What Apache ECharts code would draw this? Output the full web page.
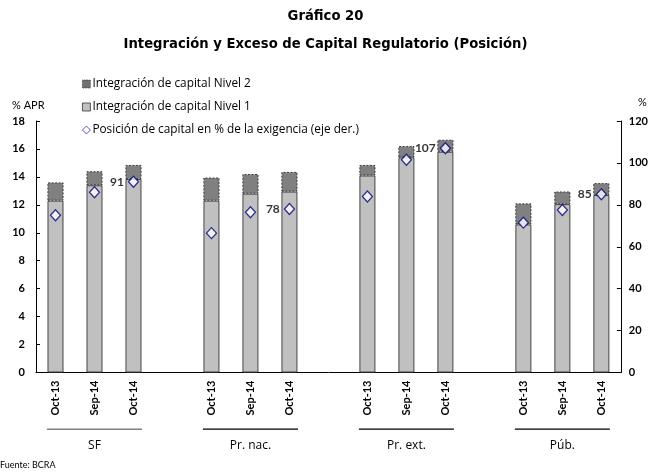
<!DOCTYPE html>
<html>
<head>
<meta charset="utf-8">
<script src="https://cdn.jsdelivr.net/npm/echarts@6/dist/echarts.min.js"></script>
<style>html,body{margin:0;padding:0;background:#fff}#c{width:651px;height:475px}</style>
</head>
<body>
<div id="c"></div>
<script>
var categories = ['Oct-13','Sep-14','Oct-14',' ','Oct-13','Sep-14','Oct-14','  ','Oct-13','Sep-14','Oct-14','   ','Oct-13','Sep-14','Oct-14'];
var groupLabels = ['', 'SF', '', '', '', 'Pr. nac.', '', '', '', 'Pr. ext.', '', '', '', 'Púb.', ''];
var nivel1 = [12.3, 13.4, 13.85, null, 12.3, 12.8, 12.95, null, 14.1, 15.4, 15.8, null, 10.6, 12.05, 12.7];
var nivel2 = [1.3, 1.0, 1.0, null, 1.65, 1.4, 1.4, null, 0.75, 0.8, 0.85, null, 1.5, 0.9, 0.85];
var posicion = [75, 86, 91, null, 66.5, 76.5, 78, null, 84, 101.5, 107, null, 71.5, 77.5, 85];
var labeledIdx = [2, 6, 10, 14];
var leftTicks = [0, 18, 2];
var rightTicks = [0, 120, 20];

var FONT = 'Lato, "Open Sans", sans-serif';
var WFONT = '"Open Sans", Lato, sans-serif';
var TFONT = '"DejaVu Sans", "Open Sans", sans-serif';
var chart = echarts.init(document.getElementById('c'), null, {renderer: 'canvas'});

var option = {
  backgroundColor: '#fff',
  animation: false,
  textStyle: {fontFamily: FONT, color: '#000'},
  title: [
    {text: 'Gráfico 20', left: 'center', top: 10, padding: 0, textStyle: {fontFamily: TFONT, fontSize: 13.2, fontWeight: 'bold', color: '#000'}},
    {text: 'Integración y Exceso de Capital Regulatorio (Posición)', left: 'center', top: 38, padding: 0, textStyle: {fontFamily: TFONT, fontSize: 13.2, fontWeight: 'bold', color: '#000'}},
    {text: '% APR', left: 12, top: 100, padding: 0, textStyle: {fontFamily: FONT, fontSize: 11, fontWeight: 'normal', color: '#000'}},
    {text: '%', left: 638, top: 97, padding: 0, textStyle: {fontFamily: FONT, fontSize: 11, fontWeight: 'normal', color: '#000'}},
    {text: 'Fuente: BCRA', left: 0, top: 461, padding: 0, textStyle: {fontFamily: FONT, fontSize: 9, fontWeight: 'normal', color: '#000'}}
  ],
  legend: {
    orient: 'vertical',
    left: 82,
    top: 77,
    padding: 0,
    itemGap: 9,
    itemWidth: 8,
    itemHeight: 8,
    textStyle: {fontFamily: WFONT, fontSize: 11.8, lineHeight: 14, color: '#000', padding: [0, 0, 0, -3]},
    data: [
      {name: 'Integración de capital Nivel 2', icon: 'rect', itemStyle: {color: '#707070', borderColor: '#333', borderWidth: 0.8, borderType: 'dotted'}},
      {name: 'Integración de capital Nivel 1', icon: 'rect', itemStyle: {color: '#c0c0c0', borderColor: '#333', borderWidth: 0.8, borderType: 'solid'}},
      {name: 'Posición de capital en % de la exigencia (eje der.)', icon: 'diamond', itemStyle: {color: '#fff', borderColor: '#000080', borderWidth: 0.8}}
    ]
  },
  grid: {left: 36, right: 28, top: 121, bottom: 102.5, containLabel: false},
  xAxis: [
    {
      type: 'category',
      data: categories,
      axisLine: {lineStyle: {color: '#000', width: 1}},
      axisTick: {show: false},
      axisLabel: {rotate: 90, interval: 0, margin: 8, fontFamily: FONT, fontSize: 11, fontWeight: 'bold', color: '#000'}
    },
    {
      type: 'category',
      data: categories,
      position: 'bottom',
      offset: 48,
      axisLine: {show: false},
      axisTick: {show: false},
      axisLabel: {
        interval: 0,
        margin: 8,
        formatter: function (v, i) {
          var g = groupLabels[i];
          if (!g) return '';
          return (i === 1 ? '{g| }' : '{k| }') + '\n{n|' + g + '}';
        },
        rich: {
          g: {width: 95, height: 1.5, lineHeight: 1.5, fontSize: 1, backgroundColor: '#808080'},
          k: {width: 95, height: 1.2, lineHeight: 1.2, fontSize: 1, backgroundColor: '#000'},
          n: {fontFamily: WFONT, fontSize: 12, lineHeight: 32, color: '#000', align: 'center'}
        }
      }
    }
  ],
  yAxis: [
    {
      type: 'value',
      min: leftTicks[0], max: leftTicks[1], interval: leftTicks[2],
      splitLine: {show: false},
      axisLine: {show: true, lineStyle: {color: '#000'}},
      axisTick: {show: true, inside: true, length: 4, lineStyle: {color: '#000'}},
      axisLabel: {margin: 11, fontFamily: FONT, fontSize: 11, fontWeight: 'bold', color: '#000'}
    },
    {
      type: 'value',
      min: rightTicks[0], max: rightTicks[1], interval: rightTicks[2],
      position: 'right',
      splitLine: {show: false},
      axisLine: {show: true, lineStyle: {color: '#000'}},
      axisTick: {show: true, inside: true, length: 4, lineStyle: {color: '#000'}},
      axisLabel: {margin: 8, fontFamily: FONT, fontSize: 11, fontWeight: 'bold', color: '#000'}
    }
  ],
  series: [
    {
      name: 'Integración de capital Nivel 1',
      type: 'bar',
      stack: 'cap',
      barWidth: 16,
      data: nivel1,
      itemStyle: {color: '#c0c0c0', borderColor: '#444', borderWidth: 1}
    },
    {
      name: 'Integración de capital Nivel 2',
      type: 'bar',
      stack: 'cap',
      barWidth: 16,
      data: nivel2,
      itemStyle: {color: '#808080', borderColor: '#222', borderWidth: 0.8, borderType: [2, 1.5]}
    },
    {
      name: 'Posición de capital en % de la exigencia (eje der.)',
      type: 'scatter',
      yAxisIndex: 1,
      symbol: 'diamond',
      symbolSize: [10, 11],
      data: posicion.map(function (v, i) {
        return {
          value: v,
          label: {
            show: labeledIdx.indexOf(i) >= 0,
            position: 'left',
            distance: 4,
            formatter: function (p) { return Math.round(p.value); },
            fontFamily: FONT, fontSize: 12, fontWeight: 'bold', color: '#000'
          }
        };
      }),
      itemStyle: {color: '#fff', borderColor: '#000080', borderWidth: 1.3},
      z: 5
    }
  ]
};
chart.setOption(option);
</script>
</body>
</html>
